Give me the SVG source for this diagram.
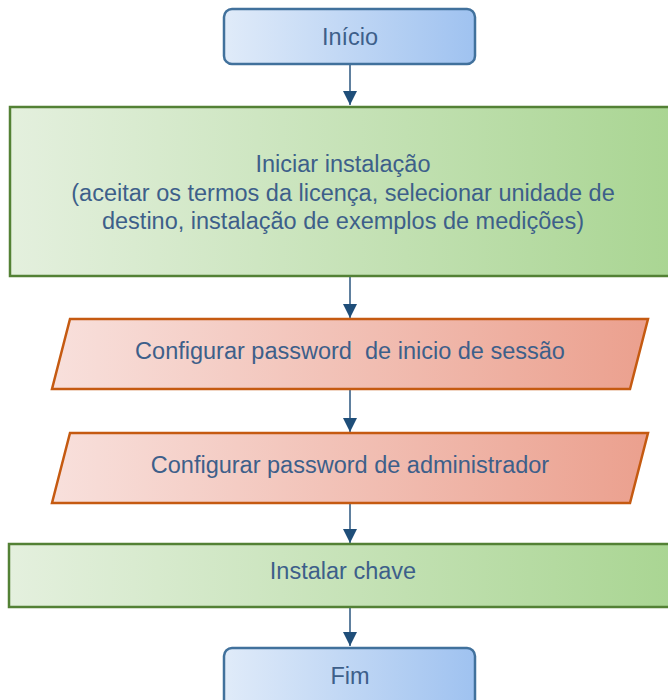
<svg xmlns="http://www.w3.org/2000/svg" width="668" height="700" viewBox="0 0 668 700">
<defs>
<linearGradient id="gBlue" x1="0" y1="0" x2="1" y2="0">
<stop offset="0" stop-color="#e0ebf9"/><stop offset="1" stop-color="#9fc2f0"/>
</linearGradient>
<linearGradient id="gGreen" x1="0" y1="0" x2="1" y2="0">
<stop offset="0" stop-color="#e4f0de"/><stop offset="1" stop-color="#a9d592"/>
</linearGradient>
<linearGradient id="gRed" x1="0" y1="0" x2="1" y2="0">
<stop offset="0" stop-color="#f8e0dc"/><stop offset="1" stop-color="#eba08e"/>
</linearGradient>
<marker id="arr" markerWidth="14" markerHeight="15" refX="14" refY="7" orient="auto" markerUnits="userSpaceOnUse">
<path d="M0,0 L14,7 L0,14 Z" fill="#1f4e79"/>
</marker>
</defs>
<style>
.t{font-family:"Liberation Sans",Arial,sans-serif;font-size:23.5px;fill:#3d5f8a;text-anchor:middle;white-space:pre}
.blue{fill:url(#gBlue);stroke:#41719c;stroke-width:2.5}
.green{fill:url(#gGreen);stroke:#538135;stroke-width:2.5}
.red{fill:url(#gRed);stroke:#c55a11;stroke-width:2.5}
.c{stroke:#2b567f;stroke-width:1.5;fill:none;marker-end:url(#arr)}
</style>
<g id="connectors">
<line class="c" x1="350" y1="64" x2="350" y2="105"/>
<line class="c" x1="350" y1="276" x2="350" y2="318"/>
<line class="c" x1="350" y1="389" x2="350" y2="432"/>
<line class="c" x1="350" y1="503" x2="350" y2="543"/>
<line class="c" x1="350" y1="607" x2="350" y2="646"/>
</g>
<g id="inicio">
<rect class="blue" x="224" y="9" width="251" height="55" rx="8"/>
<text class="t" x="350" y="45">Início</text>
</g>
<g id="iniciar-instalacao">
<rect class="green" x="10" y="107" width="668" height="169"/>
<text class="t" x="343" y="172">Iniciar instalação</text>
<text class="t" x="343" y="201">(aceitar os termos da licença, selecionar unidade de</text>
<text class="t" x="343" y="229">destino, instalação de exemplos de medições)</text>
</g>
<g id="config-sessao">
<polygon class="red" points="70,319 648,319 630,389 52,389"/>
<text class="t" x="350" y="359" xml:space="preserve">Configurar password  de inicio de sessão</text>
</g>
<g id="config-admin">
<polygon class="red" points="70,433 648,433 630,503 52,503"/>
<text class="t" x="350" y="473">Configurar password de administrador</text>
</g>
<g id="instalar-chave">
<rect class="green" x="9" y="544" width="669" height="63"/>
<text class="t" x="343" y="579">Instalar chave</text>
</g>
<g id="fim">
<rect class="blue" x="224" y="648" width="251" height="60" rx="8"/>
<text class="t" x="350" y="684">Fim</text>
</g>
</svg>
